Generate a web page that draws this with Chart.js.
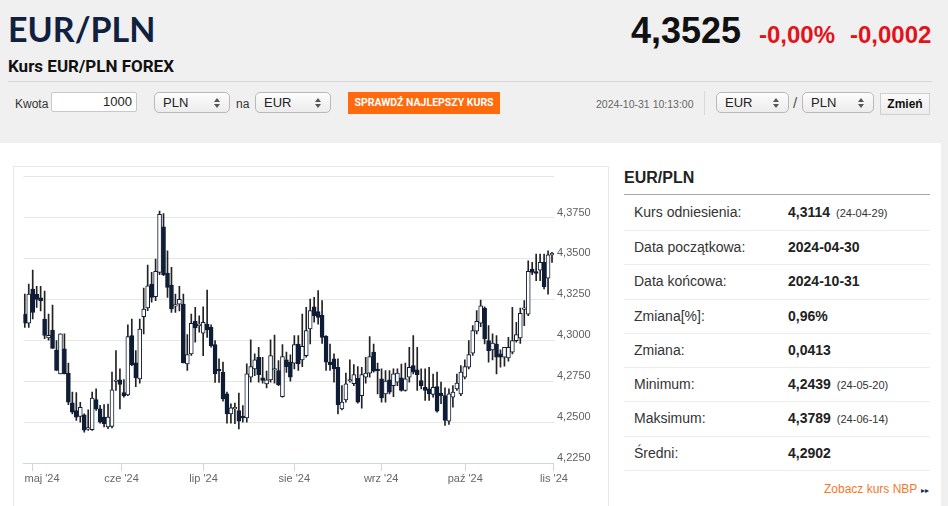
<!DOCTYPE html>
<html lang="pl">
<head>
<meta charset="utf-8">
<title>EUR/PLN</title>
<script src="https://cdn.jsdelivr.net/npm/chart.js@4.4.1/dist/chart.umd.min.js"></script>
<style>
  html, body { margin: 0; padding: 0; }
  body { width: 948px; height: 506px; background: #f0f0f0; position: relative; overflow: hidden;
         font-family: "Liberation Sans", Arial, sans-serif; color: #333; }
  .abs { position: absolute; white-space: nowrap; }
  #title { left: 8px; top: 8px; font: 700 34px Lato, sans-serif; color: #0f213f; }
  #subtitle { left: 8px; top: 56px; font: 700 17px Roboto, sans-serif; color: #111; }
  #price { left: 631px; top: 10px; font: 700 36px "Liberation Sans", Arial, sans-serif; color: #111; }
  .red { font: 700 24px "Liberation Sans", Arial, sans-serif; color: #e3131b; top: 21px; }
  #hr { left: 8px; top: 81px; width: 924px; height: 1px; background: #d6d6d6; }
  .lbl { font-size: 12px; color: #333; top: 97px; }
  .inp { top: 92px; height: 20px; background: #fff; border: 1px solid #c8c8c8; border-radius: 2px;
         font-size: 13px; color: #222; box-sizing: border-box; line-height: 18px; }
  .sel { top: 92px; height: 21px; box-sizing: border-box; border: 1px solid #b9b9b9; border-radius: 5px;
         background: linear-gradient(#fdfdfd, #ececec); font-size: 13px; color: #222; line-height: 19px; padding-left: 8px; }
  .sel:before, .sel:after { content: ""; position: absolute; right: 9px; border-left: 3px solid transparent; border-right: 3px solid transparent; }
  .sel:before { top: 5px; border-bottom: 4px solid #555; }
  .sel:after { top: 11px; border-top: 4px solid #555; }
  #btn { left: 348px; top: 92px; width: 152px; height: 22px; background: #ff6a0c; color: #fff;
         font: 700 10.5px Roboto, sans-serif; text-align: center; line-height: 22px; }
  #stamp { left: 596px; top: 98px; font-size: 10.5px; color: #666; }
  #vsep { left: 704px; top: 91px; width: 1px; height: 24px; background: #d8d8d8; }
  #zmien { left: 880px; top: 93px; width: 50px; height: 22px; box-sizing: border-box; border: 1px solid #cfcfcf;
           background: linear-gradient(#fafafa, #ececec); font-weight: 700; font-size: 12px; color: #111; text-align: center; line-height: 20px; }
  #panel { left: 0; top: 143px; width: 941px; height: 363px; background: #fff; }
  #chartBox { left: 13px; top: 166px; width: 594px; height: 345px; border: 1px solid #e8e8e8; background: #fff; }
  #chartWrap { position: absolute; left: 0; top: 0; width: 593px; height: 335px; }
  #tbl { left: 624px; top: 166px; width: 306px; }
  #tbl h3 { margin: 0; font: 700 16px "Liberation Sans", Arial, sans-serif; color: #222; height: 28px; line-height: 24px; border-bottom: 1px solid #a8a8a8; }
  .row { position: relative; height: 33.3px; border-bottom: 1px solid #ececec; font-size: 14px; line-height: 33px; }
  .row.top { height: 35px; line-height: 35px; }
  .row .k { position: absolute; left: 10px; color: #333; }
  .row .v { position: absolute; left: 164px; font-weight: 700; color: #222; }
  .row .d { font-size: 11px; font-weight: 400; color: #333; margin-left: 6px; }
  #nbp { left: 824px; top: 482px; font-size: 12px; color: #f47a2a; }
  #nbp span { color: #1a2a4a; font-size: 8px; margin-left: 4px; }
</style>
</head>
<body>
<div class="abs" id="title">EUR/PLN</div>
<div class="abs" id="subtitle">Kurs EUR/PLN FOREX</div>
<div class="abs" id="price">4,3525</div>
<div class="abs red" style="left:759px">-0,00%</div>
<div class="abs red" style="left:850px">-0,0002</div>
<div class="abs" id="hr"></div>

<div class="abs lbl" style="left:15px">Kwota</div>
<div class="abs inp" style="left:51px;width:86px;text-align:right;padding-right:4px">1000</div>
<div class="abs sel" style="left:154px;width:76px">PLN</div>
<div class="abs lbl" style="left:236px">na</div>
<div class="abs sel" style="left:255px;width:76px">EUR</div>
<div class="abs" id="btn">SPRAWDŹ NAJLEPSZY KURS</div>
<div class="abs" id="stamp">2024-10-31 10:13:00</div>
<div class="abs" id="vsep"></div>
<div class="abs sel" style="left:716px;width:73px">EUR</div>
<div class="abs lbl" style="left:793px;font-size:15px;top:94px;color:#555">/</div>
<div class="abs sel" style="left:802px;width:72px">PLN</div>
<div class="abs" id="zmien">Zmień</div>

<div class="abs" id="panel"></div>
<div class="abs" id="chartBox"><div id="chartWrap"><canvas id="chart"></canvas></div></div>

<div class="abs" id="tbl">
  <h3>EUR/PLN</h3>
  <div class="row top"><span class="k">Kurs odniesienia:</span><span class="v">4,3114<span class="d">(24-04-29)</span></span></div>
  <div class="row"><span class="k">Data początkowa:</span><span class="v">2024-04-30</span></div>
  <div class="row"><span class="k">Data końcowa:</span><span class="v">2024-10-31</span></div>
  <div class="row"><span class="k">Zmiana[%]:</span><span class="v">0,96%</span></div>
  <div class="row"><span class="k">Zmiana:</span><span class="v">0,0413</span></div>
  <div class="row"><span class="k">Minimum:</span><span class="v">4,2439<span class="d">(24-05-20)</span></span></div>
  <div class="row"><span class="k">Maksimum:</span><span class="v">4,3789<span class="d">(24-06-14)</span></span></div>
  <div class="row"><span class="k">Średni:</span><span class="v">4,2902</span></div>
</div>
<div class="abs" id="nbp">Zobacz kurs NBP<span>&#9656;&#9656;</span></div>

<script>
// daily candles, 2024-04-30 .. 2024-10-31
const opens = [
  4.3160, 4.3104, 4.3313, 4.3280, 4.3260, 4.3130, 4.3015, 4.3060, 4.2940, 4.2795,
  4.2947, 4.2799, 4.2618, 4.2570, 4.2534, 4.2544, 4.2457, 4.2453, 4.2638, 4.2581,
  4.2530, 4.2470, 4.2474, 4.2748, 4.2758, 4.2680, 4.2666, 4.3028, 4.2862, 4.2764,
  4.3144, 4.3197, 4.3343, 4.3266, 4.3415, 4.3693, 4.3410, 4.3337, 4.3209, 4.3220,
  4.3221, 4.2856, 4.2917, 4.3116, 4.3089, 4.3043, 4.3099, 4.3079, 4.2973, 4.2815,
  4.2805, 4.2673, 4.2550, 4.2581, 4.2570, 4.2528, 4.2526, 4.2774, 4.2825, 4.2896,
  4.2770, 4.2733, 4.2758, 4.2818, 4.2815, 4.2656, 4.2880, 4.2866, 4.2860, 4.2977,
  4.2880, 4.2906, 4.3069, 4.3205, 4.3175, 4.3154, 4.3024, 4.2866, 4.2886, 4.2835,
  4.2581, 4.2636, 4.2751, 4.2734, 4.2768, 4.2662, 4.2774, 4.2799, 4.2927, 4.2815,
  4.2764, 4.2672, 4.2758, 4.2723, 4.2744, 4.2770, 4.2693, 4.2774, 4.2845, 4.2819,
  4.2754, 4.2713, 4.2703, 4.2669, 4.2717, 4.2677, 4.2662, 4.2506, 4.2652, 4.2703,
  4.2672, 4.2774, 4.2835, 4.2921, 4.3055, 4.3104, 4.3197, 4.2998, 4.2941, 4.2977,
  4.2917, 4.2896, 4.2892, 4.2927, 4.2998, 4.3014, 4.3189, 4.3160, 4.3435, 4.3419,
  4.3429, 4.3476, 4.3380, 4.3522
];
const highs = [
  4.3282, 4.3343, 4.3429, 4.3330, 4.3330, 4.3300, 4.3160, 4.3215, 4.2998, 4.3039,
  4.3040, 4.2860, 4.2683, 4.2680, 4.2620, 4.2550, 4.2575, 4.2683, 4.2703, 4.2602,
  4.2607, 4.2610, 4.2805, 4.2937, 4.2825, 4.2760, 4.3095, 4.3130, 4.2937, 4.3130,
  4.3319, 4.3459, 4.3415, 4.3496, 4.3789, 4.3774, 4.3547, 4.3445, 4.3282, 4.3330,
  4.3282, 4.3035, 4.3160, 4.3201, 4.3150, 4.3205, 4.3307, 4.3095, 4.2998, 4.2886,
  4.2866, 4.2683, 4.2612, 4.2616, 4.2677, 4.2601, 4.2856, 4.3002, 4.2917, 4.2957,
  4.2896, 4.2811, 4.3002, 4.3032, 4.2876, 4.2973, 4.2927, 4.2911, 4.3028, 4.3028,
  4.3160, 4.3201, 4.3252, 4.3262, 4.3303, 4.3242, 4.3028, 4.2977, 4.2917, 4.2886,
  4.2723, 4.2799, 4.2880, 4.2851, 4.2839, 4.2835, 4.2896, 4.3022, 4.2977, 4.2860,
  4.2825, 4.2815, 4.2815, 4.2825, 4.2825, 4.2855, 4.2860, 4.2957, 4.3028, 4.2957,
  4.2825, 4.2825, 4.2835, 4.2794, 4.2805, 4.2744, 4.2709, 4.2703, 4.2723, 4.2794,
  4.2845, 4.2880, 4.2998, 4.3089, 4.3181, 4.3246, 4.3205, 4.3089, 4.3039, 4.3028,
  4.2941, 4.2957, 4.3018, 4.3201, 4.3109, 4.3197, 4.3242, 4.3486, 4.3476, 4.3526,
  4.3526, 4.3526, 4.3547, 4.3537
];
const lows = [
  4.3079, 4.3079, 4.3130, 4.3200, 4.3180, 4.3010, 4.3000, 4.2950, 4.2815, 4.2795,
  4.2795, 4.2607, 4.2550, 4.2510, 4.2500, 4.2439, 4.2449, 4.2449, 4.2571, 4.2494,
  4.2470, 4.2460, 4.2465, 4.2693, 4.2581, 4.2652, 4.2662, 4.2845, 4.2717, 4.2738,
  4.3038, 4.3181, 4.3232, 4.3242, 4.3400, 4.3394, 4.3262, 4.3170, 4.3170, 4.3180,
  4.2862, 4.2815, 4.2907, 4.2988, 4.3050, 4.2906, 4.3018, 4.2957, 4.2743, 4.2743,
  4.2628, 4.2494, 4.2494, 4.2490, 4.2459, 4.2500, 4.2500, 4.2744, 4.2784, 4.2744,
  4.2738, 4.2709, 4.2744, 4.2738, 4.2723, 4.2652, 4.2804, 4.2750, 4.2825, 4.2815,
  4.2839, 4.2896, 4.2977, 4.3110, 4.3099, 4.2981, 4.2815, 4.2815, 4.2744, 4.2550,
  4.2575, 4.2622, 4.2744, 4.2723, 4.2616, 4.2585, 4.2738, 4.2774, 4.2805, 4.2672,
  4.2622, 4.2622, 4.2672, 4.2656, 4.2723, 4.2689, 4.2689, 4.2744, 4.2795, 4.2693,
  4.2703, 4.2632, 4.2632, 4.2652, 4.2561, 4.2612, 4.2479, 4.2485, 4.2591, 4.2693,
  4.2662, 4.2764, 4.2825, 4.2907, 4.3039, 4.3083, 4.2977, 4.2866, 4.2880, 4.2794,
  4.2835, 4.2841, 4.2872, 4.2917, 4.2988, 4.2981, 4.3089, 4.3150, 4.3400, 4.3364,
  4.3364, 4.3313, 4.3282, 4.3476
];
const closes = [
  4.3104, 4.3282, 4.3170, 4.3250, 4.3240, 4.3030, 4.3030, 4.2950, 4.2815, 4.3039,
  4.2795, 4.2622, 4.2561, 4.2530, 4.2590, 4.2450, 4.2459, 4.2646, 4.2581, 4.2500,
  4.2490, 4.2530, 4.2697, 4.2750, 4.2730, 4.2660, 4.3022, 4.2851, 4.2770, 4.3069,
  4.3191, 4.3333, 4.3262, 4.3421, 4.3770, 4.3400, 4.3323, 4.3191, 4.3211, 4.3250,
  4.2862, 4.2912, 4.3104, 4.3075, 4.3090, 4.3110, 4.3063, 4.2967, 4.2794, 4.2813,
  4.2642, 4.2550, 4.2587, 4.2582, 4.2506, 4.2526, 4.2795, 4.2839, 4.2880, 4.2790,
  4.2754, 4.2758, 4.2906, 4.2820, 4.2729, 4.2900, 4.2839, 4.2774, 4.2973, 4.2856,
  4.2963, 4.3059, 4.3181, 4.3150, 4.3140, 4.3018, 4.2866, 4.2851, 4.2825, 4.2607,
  4.2622, 4.2733, 4.2752, 4.2790, 4.2622, 4.2790, 4.2799, 4.2900, 4.2811, 4.2814,
  4.2648, 4.2750, 4.2683, 4.2795, 4.2799, 4.2693, 4.2764, 4.2835, 4.2805, 4.2790,
  4.2723, 4.2693, 4.2672, 4.2713, 4.2567, 4.2662, 4.2510, 4.2673, 4.2683, 4.2738,
  4.2805, 4.2839, 4.2912, 4.3059, 4.3116, 4.3211, 4.3008, 4.2937, 4.2982, 4.2896,
  4.2896, 4.2957, 4.2957, 4.2998, 4.3034, 4.3164, 4.3191, 4.3421, 4.3415, 4.3409,
  4.3476, 4.3327, 4.3522, 4.3525
];

// month ticks on the trading-day axis
const monthTicks = [2.0, 24.4, 45.1, 68.0, 89.9, 111.1, 133.5];
const monthLabels = ["maj '24", "cze '24", "lip '24", "sie '24", "wrz '24", "paź '24", "lis '24"];

const yMin = 4.225, yMax = 4.4, yStep = 0.025;

const ink = "#0f1c36";

const wicks = highs.map((h, i) => ({ x: i, y: [lows[i], h] }));
const bodies = opens.map((o, i) => ({ x: i, y: [o, closes[i]] }));
const bodyFill = opens.map((o, i) => closes[i] >= o ? "#ffffff" : ink);

// keep the first month label inside the plot, like the original
const firstLabelInside = {
  id: "firstLabelInside",
  beforeDraw(chart) {
    const items = chart.scales.x.getLabelItems();
    if (items.length) {
      items[0].options.textAlign = "left";
      items[0].options.translation[0] = chart.chartArea.left + 1;
    }
  }
};

new Chart(document.getElementById("chart"), {
  type: "bar",
  data: {
    datasets: [
      {
        data: wicks,
        backgroundColor: "#222",
        barThickness: 1,
        grouped: false,
        order: 2
      },
      {
        data: bodies,
        backgroundColor: bodyFill,
        borderColor: ink,
        borderWidth: 1,
        borderSkipped: false,
        barThickness: 4,
        minBarLength: 1.5,
        grouped: false,
        order: 1
      }
    ]
  },
  plugins: [firstLabelInside],
  options: {
    responsive: true,
    maintainAspectRatio: false,
    animation: false,
    layout: { padding: { left: 9, top: 8, right: 0, bottom: 0 } },
    plugins: { legend: { display: false }, tooltip: { enabled: false } },
    scales: {
      x: {
        type: "linear",
        offset: false,
        min: -0.33,
        max: 133.5,
        afterBuildTicks: scale => { scale.ticks = monthTicks.map(v => ({ value: v })); },
        afterFit: scale => { scale.height = 39; },
        ticks: {
          color: "#666",
          font: { family: "Liberation Sans", size: 11 },
          padding: 1,
          maxRotation: 0,
          autoSkip: false,
          callback: (v, i) => monthLabels[i]
        },
        grid: { offset: false, drawOnChartArea: false, drawTicks: true, tickLength: 8, color: "#ccd6eb" },
        border: { color: "#ccd6eb" }
      },
      y: {
        position: "right",
        min: yMin,
        max: yMax,
        afterFit: scale => { scale.width = 53; },
        ticks: {
          stepSize: yStep,
          color: "#606060",
          font: { family: "Liberation Sans", size: 11 },
          padding: 3,
          labelOffset: -5,
          callback: v => Math.abs(v - yMax) < 1e-9 ? "" : v.toFixed(4).replace(".", ",")
        },
        grid: { color: "#e6e6e6", drawTicks: false },
        border: { display: false }
      }
    }
  }
});
</script>
</body>
</html>
